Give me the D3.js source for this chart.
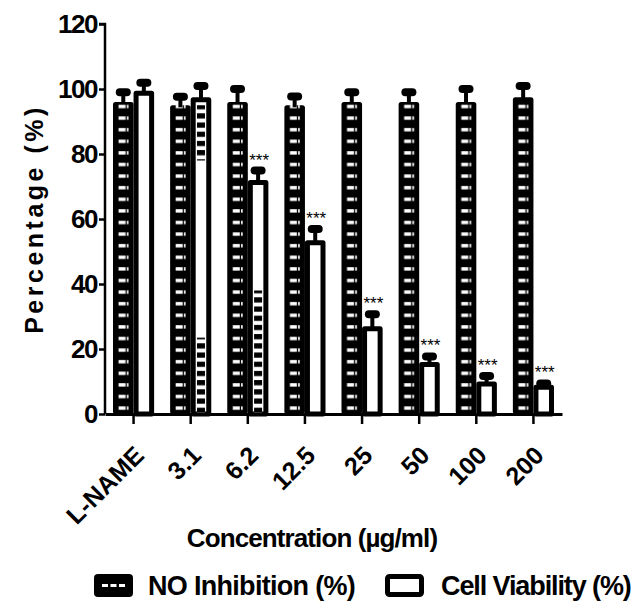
<!DOCTYPE html>
<html>
<head>
<meta charset="utf-8">
<script src="https://cdn.jsdelivr.net/npm/d3@7"></script>
<style>
  body { margin: 0; background: #fff; }
  svg { display: block; font-family: "Liberation Sans", Arial, sans-serif; }
</style>
</head>
<body>
<svg id="chart"></svg>
<script>
// data
const categories = ["L-NAME", "3.1", "6.2", "12.5", "25", "50", "100", "200"];
const noInhibition = [96, 95, 96, 95, 96, 96, 96, 97.5];
const noInhibitionErr = [3, 2.6, 4, 2.7, 3, 3, 4, 3.4];
const cellViability = [99.5, 97.5, 72, 53.5, 27, 16, 10, 9];
const cellViabilityErr = [2.4, 3.4, 2.9, 3.4, 3.7, 1.7, 1.7, 0.4];
const significance = ["", "", "***", "***", "***", "***", "***", "***"];
const yTicks = [0, 20, 40, 60, 80, 100, 120];
// odd hatched strips that show inside some viability bars (value ranges)
const strayHatch = [
    { cat: "3.1", from: 0, to: 23.5 },
    { cat: "3.1", from: 78, to: 95 },
    { cat: "6.2", from: 0, to: 38 }
];

const W = 644, H = 604;
const margin = { top: 24, right: 82, bottom: 190, left: 105 };
const width = W - margin.left - margin.right;
const height = H - margin.top - margin.bottom;

const svg = d3.select("#chart").attr("width", W).attr("height", H);
const defs = svg.append("defs");
const g = svg.append("g").attr("transform", `translate(${margin.left},${margin.top})`);

const x = d3.scaleBand().domain(categories).range([0, width]).padding(0);
const y = d3.scaleLinear().domain([0, 120]).range([height, 0]);
const bw = x.bandwidth() * 0.36;
const rowH = 11.6;

const rows = categories.map((c, i) => ({
    cat: c, i,
    no: noInhibition[i], noErr: noInhibitionErr[i],
    cv: cellViability[i], cvErr: cellViabilityErr[i],
    sig: significance[i]
}));

// one dash pattern per black bar so the dashes line up with each bar
rows.forEach(d => {
    const p = defs.append("pattern")
        .attr("id", "dash" + d.i)
        .attr("patternUnits", "userSpaceOnUse")
        .attr("x", x(d.cat) + x.bandwidth() / 2 - bw)
        .attr("y", y(0))
        .attr("width", bw)
        .attr("height", rowH);
    p.append("rect").attr("width", bw).attr("height", rowH).attr("fill", "#000");
    p.append("rect").attr("x", bw * 0.27).attr("y", 4).attr("width", bw * 0.34).attr("height", 3.4).attr("fill", "#fff");
    p.append("rect").attr("x", bw * 0.67).attr("y", 4).attr("width", bw * 0.08).attr("height", 3.4).attr("fill", "#fff");
});

// hatched chain pattern
const hp = defs.append("pattern")
    .attr("id", "chain")
    .attr("patternUnits", "userSpaceOnUse")
    .attr("width", 40).attr("height", 9.2);
hp.append("rect").attr("width", 40).attr("height", 9.2).attr("fill", "#000");
hp.append("rect").attr("x", 0).attr("y", 2.5).attr("width", 40).attr("height", 4).attr("fill", "#fff");

// NO inhibition bars (black, dashed)
g.selectAll(".no-bar")
    .data(rows)
    .join("rect")
    .attr("class", "no-bar")
    .attr("x", d => x(d.cat) + x.bandwidth() / 2 - bw)
    .attr("y", d => y(d.no))
    .attr("width", bw)
    .attr("height", d => y(0) - y(d.no))
    .attr("rx", 2.5)
    .attr("fill", d => `url(#dash${d.i})`);

// cell viability bars (white, thick outline)
const sw = 5;
g.selectAll(".cv-bar")
    .data(rows)
    .join("rect")
    .attr("class", "cv-bar")
    .attr("x", d => x(d.cat) + x.bandwidth() / 2 + sw / 2)
    .attr("y", d => y(d.cv) + sw / 2)
    .attr("width", bw - sw)
    .attr("height", d => y(0) - y(d.cv) - sw / 2)
    .attr("fill", "#fff")
    .attr("stroke", "#000")
    .attr("stroke-width", sw)
    .attr("stroke-linejoin", "round");

g.selectAll(".stray")
    .data(strayHatch)
    .join("rect")
    .attr("class", "stray")
    .attr("x", d => x(d.cat) + x.bandwidth() / 2 + bw / 2 - 4)
    .attr("y", d => y(d.to))
    .attr("width", 8)
    .attr("height", d => y(d.from) - y(d.to))
    .attr("fill", "url(#chain)");

// error bars: stem + rounded cap
function errorBars(cls, offset, val, err) {
    const eg = g.selectAll("." + cls)
        .data(rows)
        .join("g")
        .attr("class", cls)
        .attr("transform", d => `translate(${x(d.cat) + x.bandwidth() / 2 + offset},0)`);
    eg.append("line")
        .attr("y1", d => y(val(d)) + 2)
        .attr("y2", d => y(val(d) + err(d)))
        .attr("stroke", "#000")
        .attr("stroke-width", 4);
    eg.append("rect")
        .attr("x", -7.5)
        .attr("y", d => y(val(d) + err(d)) - 4)
        .attr("width", 15)
        .attr("height", 8)
        .attr("rx", 4)
        .attr("fill", "#000");
}
errorBars("no-err", -bw / 2, d => d.no, d => d.noErr);
errorBars("cv-err", bw / 2, d => d.cv, d => d.cvErr);

// significance stars
g.selectAll(".sig")
    .data(rows.filter(d => d.sig))
    .join("text")
    .attr("class", "sig")
    .attr("x", d => x(d.cat) + x.bandwidth() / 2 + bw / 2 + 1)
    .attr("y", d => y(d.cv + d.cvErr) - 5)
    .attr("text-anchor", "middle")
    .attr("font-size", 17)
    .text(d => d.sig);

// y axis
const yAxis = g.append("g")
    .call(d3.axisLeft(y).tickValues(yTicks).tickSize(6).tickPadding(2));
yAxis.select(".domain").attr("stroke-width", 2.5).attr("d", `M0,${height}V0H-6`);
yAxis.selectAll(".tick line").attr("stroke-width", 2.5);
yAxis.selectAll(".tick text")
    .attr("font-size", 26)
    .attr("font-weight", "bold")
    .attr("letter-spacing", -1.5)
    .attr("fill", "#000")
    .attr("font-family", "Liberation Sans, Arial, sans-serif");

// x axis, labels are drawn separately so they can be slanted
const xAxis = g.append("g")
    .attr("transform", `translate(0,${height})`)
    .call(d3.axisBottom(x).tickSize(10).tickSizeOuter(0).tickFormat(""));
xAxis.select(".domain").attr("stroke-width", 3);
xAxis.selectAll(".tick line").attr("stroke-width", 2.5);

g.append("g")
    .selectAll("text")
    .data(categories)
    .join("text")
    .attr("transform", d => `translate(${x(d) + x.bandwidth() / 2 + 12},${height + 43}) rotate(-45)`)
    .attr("text-anchor", "end")
    .attr("font-size", 25)
    .attr("font-weight", "bold")
    .text(d => d);

// axis titles
svg.append("text")
    .attr("transform", `translate(43,${margin.top + height / 2}) rotate(-90)`)
    .attr("text-anchor", "middle")
    .attr("font-size", 25)
    .attr("font-weight", "bold")
    .attr("letter-spacing", 3.5)
    .text("Percentage (%)");

svg.append("text")
    .attr("x", 312)
    .attr("y", 547)
    .attr("text-anchor", "middle")
    .attr("font-size", 26)
    .attr("font-weight", "bold")
    .attr("letter-spacing", -0.9)
    .text("Concentration (µg/ml)");

// legend
const legend = svg.append("g").attr("transform", "translate(94,574)");
legend.append("rect").attr("width", 39).attr("height", 23).attr("rx", 4).attr("fill", "#000");
[8, 16.5, 25].forEach(dx =>
    legend.append("rect").attr("x", dx).attr("y", 10).attr("width", 6).attr("height", 3).attr("fill", "#fff"));
legend.append("text").attr("x", 54).attr("y", 21)
    .attr("font-size", 27).attr("font-weight", "bold").attr("letter-spacing", -0.7)
    .text("NO Inhibition (%)");
legend.append("rect").attr("x", 293.5).attr("y", 2.5).attr("width", 34).attr("height", 18).attr("rx", 2)
    .attr("fill", "#fff").attr("stroke", "#000").attr("stroke-width", 5);
legend.append("text").attr("x", 347).attr("y", 21)
    .attr("font-size", 27).attr("font-weight", "bold").attr("letter-spacing", -1.1)
    .text("Cell Viability (%)");
</script>
</body>
</html>
